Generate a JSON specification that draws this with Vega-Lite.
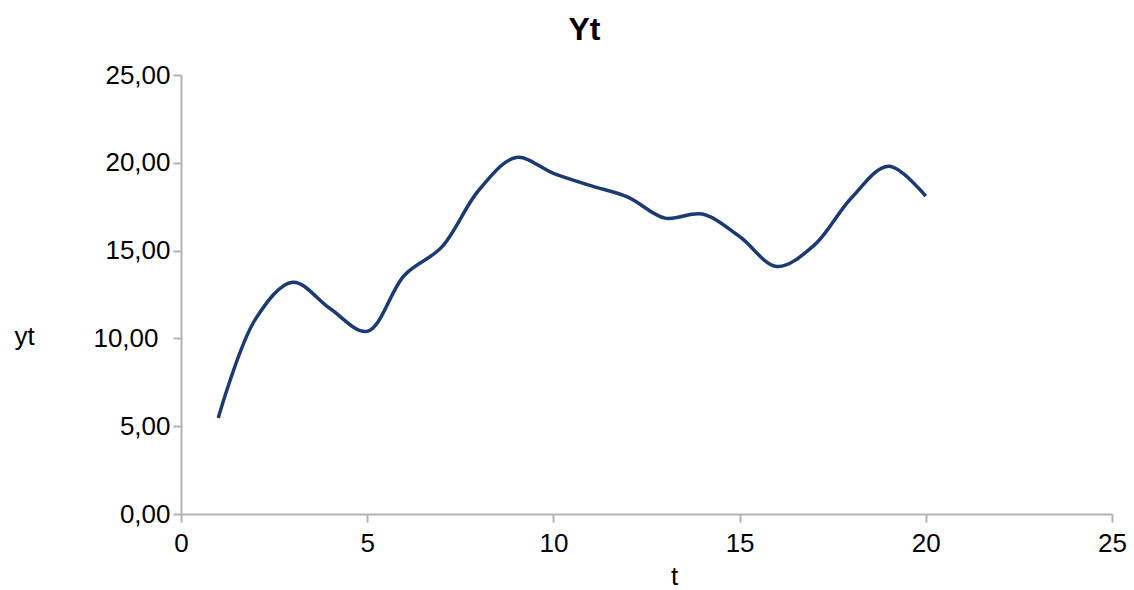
{
  "$schema": "https://vega.github.io/schema/vega-lite/v6.json",
  "width": 931,
  "height": 439,
  "autosize": "none",
  "padding": {"left": 181, "top": 75, "right": 22, "bottom": 76},
  "background": "white",
  "config": {
    "view": {"stroke": null},
    "font": "Liberation Sans",
    "locale": {"number": {"decimal": ",", "thousands": ".", "grouping": [3], "currency": ["", " €"]}}
  },
  "title": {
    "text": "Yt",
    "font": "Liberation Sans",
    "fontSize": 32,
    "fontWeight": "bold",
    "color": "black",
    "anchor": "middle",
    "frame": "group",
    "dx": -62,
    "dy": 10,
    "offset": 0,
    "baseline": "alphabetic"
  },
  "data": {
    "values": [
      {"t": 1, "yt": 5.47},
      {"t": 2, "yt": 11.1},
      {"t": 3, "yt": 13.2},
      {"t": 4, "yt": 11.7},
      {"t": 5, "yt": 10.4},
      {"t": 6, "yt": 13.6},
      {"t": 7, "yt": 15.2},
      {"t": 8, "yt": 18.45},
      {"t": 9, "yt": 20.3},
      {"t": 10, "yt": 19.4},
      {"t": 11, "yt": 18.7},
      {"t": 12, "yt": 18.05},
      {"t": 13, "yt": 16.85},
      {"t": 14, "yt": 17.08},
      {"t": 15, "yt": 15.8},
      {"t": 16, "yt": 14.1},
      {"t": 17, "yt": 15.3},
      {"t": 18, "yt": 18.0},
      {"t": 19, "yt": 19.8},
      {"t": 20, "yt": 18.1}
    ]
  },
  "mark": {"type": "line", "interpolate": "catmull-rom", "color": "#1b3a72", "strokeWidth": 3.5},
  "encoding": {
    "x": {
      "field": "t",
      "type": "quantitative",
      "scale": {"domain": [0, 25], "nice": false},
      "axis": {
        "values": [0, 5, 10, 15, 20, 25],
        "grid": false,
        "title": "t",
        "titleFontSize": 26,
        "titleFontWeight": "normal",
        "titleColor": "black",
        "titleX": 493,
        "titleY": 70,
        "titleBaseline": "alphabetic",
        "labelFontSize": 26,
        "labelColor": "black",
        "labelPadding": 8,
        "domainColor": "#b3b3b3",
        "domainWidth": 2,
        "tickColor": "#b3b3b3",
        "tickWidth": 2,
        "tickSize": 8,
        "labelFlush": false
      }
    },
    "y": {
      "field": "yt",
      "type": "quantitative",
      "scale": {"domain": [0, 25], "nice": false},
      "axis": {
        "values": [0, 5, 10, 15, 20, 25],
        "format": ".2f",
        "grid": false,
        "title": "yt",
        "titleAngle": 0,
        "titleFontSize": 26,
        "titleFontWeight": "normal",
        "titleColor": "black",
        "titleX": -157,
        "titleY": 269,
        "titleAlign": "center",
        "titleBaseline": "alphabetic",
        "labelFontSize": 26,
        "labelColor": "black",
        "labelPadding": {"condition": {"test": "datum.value == 10", "value": 15}, "value": 3},
        "labelFlush": false,
        "domainColor": "#b3b3b3",
        "domainWidth": 2,
        "tickColor": "#b3b3b3",
        "tickWidth": 2,
        "tickSize": 8
      }
    }
  }
}
